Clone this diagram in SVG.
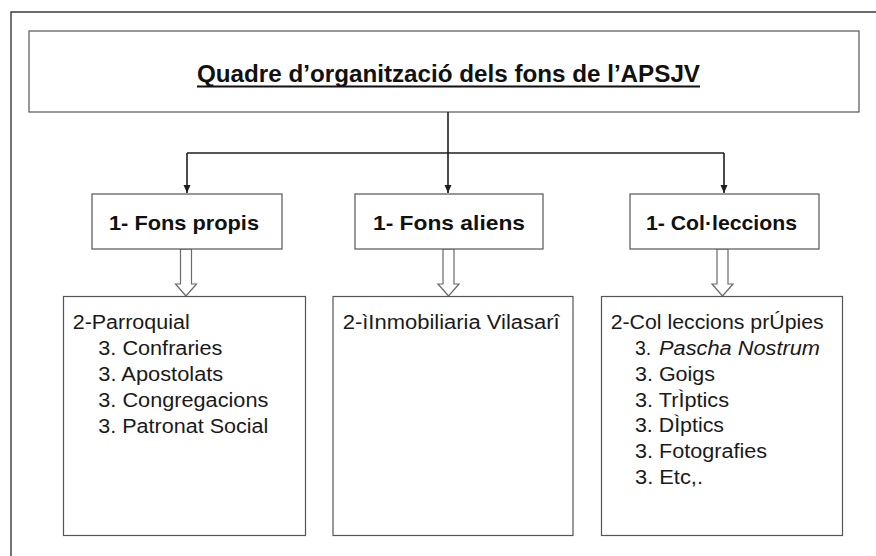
<svg xmlns="http://www.w3.org/2000/svg" width="876" height="556" viewBox="0 0 876 556">
<style>
.frame{fill:none;stroke:#3a3a3a;stroke-width:1.4}
.box{fill:#fff;stroke:#555;stroke-width:1.2}
.conn{fill:none;stroke:#1e1e1e;stroke-width:1.6}
.blk{fill:#fff;stroke:#6a6a6a;stroke-width:1.2}
.title{font-family:"Liberation Sans",Arial,sans-serif;font-weight:bold;font-size:23.5px;fill:#111}
.l1{font-family:"Liberation Sans",Arial,sans-serif;font-weight:bold;font-size:21px;fill:#111;text-anchor:middle}
.l2{font-family:"Liberation Sans",Arial,sans-serif;font-size:19.5px;fill:#1a1a1a}
.it{font-style:italic}
</style>
<defs>
<marker id="ah" markerWidth="8" markerHeight="8" refX="8" refY="3.5" orient="auto" markerUnits="userSpaceOnUse">
<path d="M0,0 L8,3.5 L0,7 Z" fill="#1e1e1e"/>
</marker>
</defs>
<rect width="876" height="556" fill="#fff"/>
<path class="frame" d="M876,12 H11 V556"/>

<g id="title">
<rect class="box" x="29" y="31" width="830" height="81"/>
<text class="title" x="197" y="82" textLength="503" lengthAdjust="spacingAndGlyphs">Quadre d’organització dels fons de l’APSJV</text>
<line x1="197" y1="86.5" x2="700" y2="86.5" stroke="#111" stroke-width="1.8"/>
</g>

<g id="connectors">
<path class="conn" d="M448,112 V193" marker-end="url(#ah)"/>
<path class="conn" d="M187,153 H724"/>
<path class="conn" d="M187,153 V193" marker-end="url(#ah)"/>
<path class="conn" d="M724,153 V193" marker-end="url(#ah)"/>
<path class="blk" d="M180.5,249 V284 H175.5 L186,296 L196.5,284 H191.5 V249 Z"/>
<path class="blk" d="M443,249 V284 H438 L448.5,296 L459,284 H454 V249 Z"/>
<path class="blk" d="M717,249 V284 H712 L722.5,296 L733,284 H728 V249 Z"/>
</g>

<g id="fons-propis">
<rect class="box" x="92" y="194" width="190" height="55"/>
<text class="l1" x="184" y="230" textLength="150" lengthAdjust="spacingAndGlyphs">1- Fons propis</text>
</g>
<g id="fons-aliens">
<rect class="box" x="355" y="194" width="188" height="55"/>
<text class="l1" x="449" y="230" textLength="152" lengthAdjust="spacingAndGlyphs">1- Fons aliens</text>
</g>
<g id="colleccions">
<rect class="box" x="630" y="194" width="189" height="55"/>
<text class="l1" x="721.5" y="230" textLength="151" lengthAdjust="spacingAndGlyphs">1- Col·leccions</text>
</g>

<g id="parroquial">
<rect class="box" x="63.5" y="296.5" width="242" height="239"/>
<text class="l2" x="72.7" y="329" textLength="117" lengthAdjust="spacingAndGlyphs">2-Parroquial</text>
<text class="l2" x="98.3" y="355" textLength="124" lengthAdjust="spacingAndGlyphs">3. Confraries</text>
<text class="l2" x="98.3" y="381" textLength="125" lengthAdjust="spacingAndGlyphs">3. Apostolats</text>
<text class="l2" x="98.3" y="407" textLength="170" lengthAdjust="spacingAndGlyphs">3. Congregacions</text>
<text class="l2" x="98.3" y="432.5" textLength="170" lengthAdjust="spacingAndGlyphs">3. Patronat Social</text>
</g>

<g id="inmobiliaria">
<rect class="box" x="333" y="296.5" width="240" height="239"/>
<text class="l2" x="342.7" y="328.5" textLength="217" lengthAdjust="spacingAndGlyphs">2-ìInmobiliaria Vilasarî</text>
</g>

<g id="colleccions-propies">
<rect class="box" x="601.5" y="296.5" width="241" height="239"/>
<text class="l2" x="610.7" y="328.5" textLength="213" lengthAdjust="spacingAndGlyphs">2-Col leccions prÚpies</text>
<text class="l2" x="635" y="355">3.</text>
<text class="l2 it" x="659" y="355" textLength="161" lengthAdjust="spacingAndGlyphs">Pascha Nostrum</text>
<text class="l2" x="635" y="380.5" textLength="80" lengthAdjust="spacingAndGlyphs">3. Goigs</text>
<text class="l2" x="635" y="406.5" textLength="94" lengthAdjust="spacingAndGlyphs">3. TrÌptics</text>
<text class="l2" x="635" y="432" textLength="89" lengthAdjust="spacingAndGlyphs">3. DÌptics</text>
<text class="l2" x="635" y="458" textLength="132" lengthAdjust="spacingAndGlyphs">3. Fotografies</text>
<text class="l2" x="635" y="484" textLength="68" lengthAdjust="spacingAndGlyphs">3. Etc,.</text>
</g>
</svg>
